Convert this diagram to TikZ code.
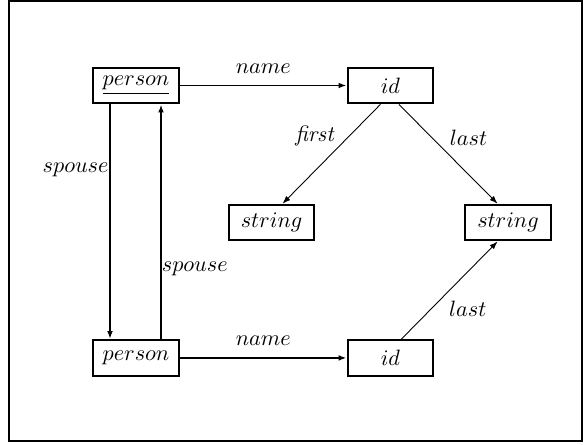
\documentclass[tikz,border=0pt]{standalone}
\usetikzlibrary{positioning,arrows.meta}
\begin{document}
\begin{tikzpicture}[x=0.45pt,y=-0.45pt,
						box/.style={draw,line width=1pt,minimum width=38.5pt,minimum height=16pt,inner sep=0pt},
						arr/.style={-{Latex[length=3.6pt,width=2.6pt]},line width=0.8pt},
						thinarr/.style={-{Latex[length=3.6pt,width=2.6pt]},line width=0.4pt}]
		\useasboundingbox (0,0) rectangle (584,445);
		\draw[line width=0.9pt] (9,1.5) rectangle (582.5,441);

		\node[box]											(p1)	at (136,85.5)	{$\underline{person}$};
		\node[box,node distance=75pt,right=of p1]			(i1)				{$id$};
		\node[box,node distance=105.6pt,below=of p1]		(p2)				{$person$};
		\node[box,node distance=75pt,right=of p2]			(i2)				{$id$};
		\node[box,node distance=44.7pt,below=of i1,xshift=-53.5pt]	(s1)		{$string$};
		\node[box,node distance=44.7pt,below=of i1,xshift=52.9pt]	(s2)		{$string$};

		\draw[arr] (p1) -- node[above=1.7pt] {$name$} (i1);
		\draw[arr] (p2) -- node[above=1.7pt] {$name$} (i2);
		\draw[arr,line width=1.3pt] ([xshift=-11.7pt]p1.south) -- node[pos=0.277,left,inner sep=0pt] {$spouse$} ([xshift=-11.7pt]p2.north);
		\draw[arr] ([xshift=11.25pt]p2.north) -- node[pos=0.297,right,inner sep=0pt] {$spouse$} ([xshift=11.25pt]p1.south);
		\draw[thinarr] ([xshift=-4.5pt]i1.south) -- node[pos=0.32,left=3pt] {\textit{first}} ([xshift=4.95pt]s1.north);
		\draw[thinarr] ([xshift=3.8pt]i1.south) -- node[pos=0.34,right=4.3pt] {$last$} ([xshift=-4.7pt]s2.north);
		\draw[thinarr] ([xshift=4.95pt]i2.north) -- node[pos=0.31,right=4.5pt] {$last$} ([xshift=-4.7pt]s2.south);
	\end{tikzpicture}
\end{document}
